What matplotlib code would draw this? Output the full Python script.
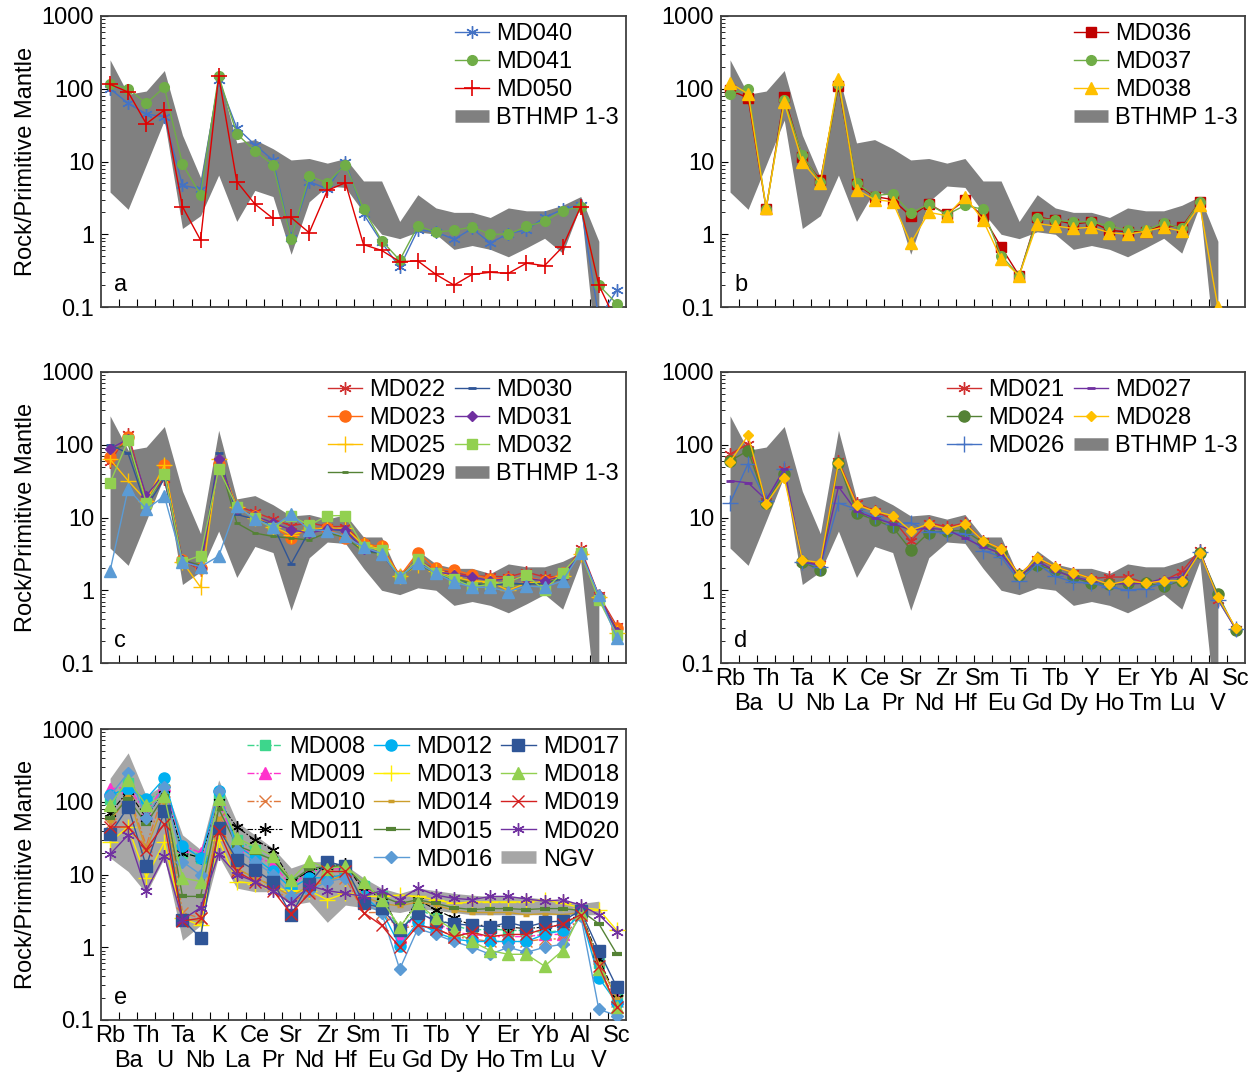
import numpy as np
import matplotlib
matplotlib.use('Agg')
import matplotlib.pyplot as plt
from matplotlib.lines import Line2D
from matplotlib.ticker import LogLocator, NullFormatter

plt.rcParams['font.family'] = ['Liberation Sans', 'DejaVu Sans']
plt.rcParams['font.size'] = 17

elements = ['Rb', 'Ba', 'Th', 'U', 'Ta', 'Nb', 'K', 'La', 'Ce', 'Pr', 'Sr', 'Nd', 'Zr', 'Hf',
            'Sm', 'Eu', 'Ti', 'Gd', 'Tb', 'Dy', 'Y', 'Ho', 'Er', 'Tm', 'Yb', 'Lu', 'Al', 'V', 'Sc']
nan = np.nan

# envelopes (Rb .. V)
bthmp_upper = [250, 84, 93, 178, 23, 6.0, 158, 18, 20, 15, 10.5, 11, 9.5, 11, 5.4, 5.4, 1.5, 3.5,
               2.3, 2.0, 2.0, 1.7, 2.3, 2.1, 2.1, 2.5, 3.3, 0.8]
bthmp_lower = [3.8, 2.2, 9, 37, 1.2, 1.8, 6.5, 1.5, 4.0, 3.3, 0.53, 2.8, 4.6, 4.4, 2.0, 1.0, 0.87,
               1.08, 1.0, 0.62, 0.7, 0.62, 0.49, 0.65, 0.88, 0.55, 2.5, 0.01]
ngv_upper = [210, 470, 120, 175, 35, 22, 200, 53, 35, 23, 12.3, 15, 15, 13.5, 9, 6.5, 5.5, 6.5,
             6.0, 5.5, 5.2, 5.0, 5.0, 4.9, 4.6, 4.4, 4.0, 4.3]
ngv_lower = [17, 11, 5.5, 17, 1.25, 2.0, 18, 6.5, 5.8, 5.8, 3.8, 4.2, 2.2, 3.8, 3.5, 3.2, 3.0, 3.4,
             3.2, 3.0, 2.8, 2.8, 2.8, 2.8, 2.8, 2.8, 2.8, 2.8]

# panel a
md040 = [100, 63, 45, 41, 4.7, 4.2, 130, 29, 17, 10.4, 0.9, 5.3, 4.2, 10, 1.9, 0.78, 0.35, 1.15,
         1.08, 0.85, 1.2, 0.76, 1.02, 1.15, 1.7, 2.2, 2.55, 0.07, 0.17]
md041 = [118, 100, 63, 105, 9.2, 3.5, 150, 24, 14, 9, 0.87, 6.3, 5.1, 9, 2.2, 0.82, 0.44, 1.3,
         1.07, 1.13, 1.26, 1.0, 1.0, 1.28, 1.5, 2.1, 2.4, 0.2, 0.11]
md050 = [115, 90, 33, 51, 2.4, 0.83, 150, 5.3, 2.6, 1.65, 1.7, 1.05, 4.0, 5.1, 0.72, 0.6, 0.42, 0.43,
         0.28, 0.2, 0.28, 0.3, 0.29, 0.4, 0.37, 0.67, 2.4, 0.2, 0.06]

# panel b
md036 = [95, 75, 2.25, 78, 11.6, 5.5, 110, 4.9, 3.3, 3.0, 1.77, 2.6, 1.9, 2.95, 1.77, 0.67, 0.27,
         1.73, 1.56, 1.38, 1.48, 1.13, 1.08, 1.08, 1.34, 1.25, 2.8, nan, nan]
md037 = [85, 100, 2.25, 70, 12.2, 5.2, 115, 5.0, 3.4, 3.6, 1.95, 2.6, 1.85, 2.5, 2.2, 0.51, 0.27,
         1.65, 1.56, 1.48, 1.48, 1.3, 1.13, 1.13, 1.44, 1.2, 2.8, nan, nan]
md038 = [120, 85, 2.3, 65, 9.9, 5.0, 135, 4.1, 3.0, 2.8, 0.75, 2.0, 1.8, 3.3, 1.56, 0.46, 0.27,
         1.4, 1.3, 1.2, 1.25, 1.05, 1.0, 1.1, 1.25, 1.1, 2.5, 0.1, nan]

# panel c
md022 = [58, 142, 18, 34, 2.6, 1.9, 60, 14.5, 11.8, 9.5, 7.7, 8.5, 7.5, 7.5, 4.4, 3.9, 1.62, 2.6,
         1.9, 1.75, 1.56, 1.56, 1.52, 1.78, 1.52, 1.56, 3.75, 0.85, 0.32]
md023 = [67, 126, 17, 52, 2.6, 2.0, 55, 14, 10.4, 7.5, 5.2, 7.1, 7.1, 5.2, 4.3, 4.0, 1.55, 3.3,
         2.0, 1.9, 1.63, 1.45, 1.45, 1.52, 1.35, 1.7, 3.3, 0.8, 0.3]
md025 = [63, 32, 17, 52, 2.45, 1.1, 63, 14, 9.8, 7.5, 5.8, 6.8, 7.1, 7.1, 4.2, 3.7, 1.55, 2.2,
         1.85, 1.5, 1.35, 1.3, 1.0, 1.25, 1.3, 1.56, 3.2, 0.8, 0.26]
md029 = [83, 103, 15.8, 40, 2.6, 2.2, 63, 8.4, 6.1, 5.5, 5.2, 4.9, 6.2, 5.3, 3.4, 3.2, 1.52, 2.3,
         1.7, 1.45, 1.25, 1.2, 1.2, 1.22, 1.25, 1.52, 3.3, 0.82, 0.28]
md030 = [100, 76, 14, 34, 2.6, 2.05, 76, 11, 9.5, 7.9, 2.3, 6.5, 6.9, 6.6, 3.6, 3.2, 1.52, 2.6,
         1.7, 1.35, 1.22, 1.15, 1.25, 1.22, 1.22, 1.45, 3.4, 0.82, 0.27]
md031 = [88, 120, 20, 40, 2.6, 2.05, 63, 13, 10.6, 8.4, 6.8, 6.1, 6.9, 6.8, 3.7, 3.3, 1.52, 2.5,
         1.8, 1.63, 1.52, 1.35, 1.45, 1.45, 1.35, 1.56, 3.4, 0.85, 0.27]
md032 = [30, 115, 16, 40, 2.45, 3.0, 47, 14, 9.8, 7.1, 10.6, 7.8, 10.6, 10.6, 3.95, 3.6, 1.5, 2.65,
         1.75, 1.42, 1.12, 1.2, 1.32, 1.6, 1.0, 1.75, 3.3, 0.74, 0.24]
c_unlabeled = [1.84, 25, 13, 19.7, 2.45, 2.1, 2.95, 14.3, 9.5, 7.5, 11, 6.8, 6.6, 5.5, 3.9, 3.2,
               1.52, 2.4, 1.7, 1.3, 1.1, 1.1, 0.95, 1.15, 1.1, 1.35, 3.3, 0.85, 0.22]

# panel d
md021 = [74, 103, 16.7, 46, 2.45, 2.3, 60, 16, 12.2, 9.5, 4.7, 8.5, 7.4, 8.4, 4.8, 3.7, 1.65, 2.7,
         2.1, 1.75, 1.45, 1.52, 1.52, 1.25, 1.35, 1.8, 3.6, 0.74, 0.29]
md024 = [60, 83, 16, 40, 2.45, 1.9, 57, 11.5, 9.3, 7.4, 3.6, 6.2, 6.6, 6.6, 4.5, 3.4, 1.6, 2.2,
         1.9, 1.5, 1.25, 1.2, 1.25, 1.25, 1.13, 1.35, 3.3, 0.88, 0.28]
md026 = [15.8, 55, 16.7, 46, 2.45, 2.1, 15.8, 13, 10.4, 8.2, 8.5, 6.4, 6.2, 6.0, 3.5, 2.9, 1.35, 2.3,
         1.55, 1.3, 1.25, 1.1, 1.0, 1.05, 1.25, 1.38, 3.4, 0.74, 0.29]
md027 = [32, 30, 17.5, 46, 2.45, 2.2, 26.5, 12.2, 9.8, 8.2, 6.8, 7.1, 6.8, 5.2, 3.95, 3.2, 1.52, 2.5,
         1.85, 1.52, 1.35, 1.25, 1.22, 1.25, 1.45, 1.52, 3.4, 0.8, 0.29]
md028 = [58, 135, 15.5, 35, 2.6, 2.4, 57, 15, 12.2, 10.6, 6.6, 8.2, 6.9, 8.2, 4.8, 3.7, 1.6, 2.8,
         2.1, 1.75, 1.45, 1.2, 1.35, 1.25, 1.35, 1.35, 3.3, 0.8, 0.3]

# panel e
md008 = [110, 180, 100, 150, 20, 17, 110, 30, 22, 15, 8, 10, 14, 13, 7, 5, 1.6, 3.5, 2.5, 2.0, 1.7,
         1.8, 1.7, 1.7, 1.6, 1.7, 3.0, 0.6, 0.2]
md009 = [150, 160, 70, 170, 25, 20, 100, 25, 18, 14, 7, 11, 12, 12, 7, 4.5, 1.4, 3.2, 2.2, 1.6, 1.5,
         1.4, 1.4, 1.4, 1.5, 1.5, 3.0, 0.45, 0.2]
md010 = [50, 130, 25, 140, 3, 2.5, 60, 12, 9, 7, 4, 6, 10, 9, 3, 3, 1.8, 2.0, 1.8, 1.4, 1.3, 1.2,
         1.2, 1.2, 1.3, 1.3, 2.8, 0.5, 0.18]
md011 = [70, 140, 60, 150, 20, 17, 100, 45, 30, 22, 8, 11, 13, 14, 6, 5, 1.8, 4.5, 3.3, 2.5, 2.0,
         2.0, 1.9, 1.8, 1.9, 2.0, 3.0, 0.7, 0.2]
md012 = [125, 150, 110, 210, 25, 17, 140, 25, 17, 11, 6.5, 9, 9, 10, 5, 3.2, 1.05, 2.2, 1.6, 1.3,
         1.2, 1.2, 1.2, 1.2, 1.5, 1.7, 2.8, 0.38, 0.17]
md013 = [28, 45, 9, 28, 2.5, 2.0, 30, 8, 7.5, 6.5, 6, 6, 4.5, 5.5, 5, 5, 5.2, 5, 4.5, 4, 4.2, 4.2,
         4.2, 4.2, 4.5, 4.0, 3.5, 3.3, 1.7]
md014 = [55, 120, 22, 100, 2.5, 2.3, 60, 12, 9, 7, 5, 7, 8, 10, 5, 4, 3.7, 4.2, 3.8, 3.2, 3.0, 3.0,
         3.0, 2.8, 2.9, 2.8, 3.0, 0.6, 0.2]
md015 = [60, 110, 50, 120, 5, 5, 80, 25, 20, 16, 8, 12, 13, 13, 7, 5, 4.0, 4.5, 4.0, 3.5, 3.3, 3.4,
         3.4, 3.3, 3.4, 3.4, 3.2, 2.1, 0.8]
md016 = [120, 250, 60, 160, 15, 10, 140, 22, 15, 10, 5, 6, 8, 9, 4, 3, 0.5, 1.8, 1.5, 1.2, 1.0, 0.8,
         1.0, 0.85, 1.0, 1.1, 2.7, 0.14, 0.115]
md017 = [36, 85, 13, 75, 2.4, 1.35, 43, 16, 11.5, 8, 2.8, 7.5, 15, 13, 4, 3.5, 1.7, 3.0, 2.3, 2.1,
         2.0, 1.9, 2.2, 1.9, 2.2, 2.3, 3.2, 0.9, 0.28]
md018 = [90, 200, 90, 120, 9, 8, 110, 32, 24, 18, 8.5, 15.5, 12, 13, 8, 4.5, 1.9, 4.0, 2.5, 1.7,
         1.2, 0.9, 0.8, 0.8, 0.55, 0.9, 3.0, 0.5, 0.15]
md019 = [45, 45, 22, 50, 2.3, 2.5, 40, 11, 8, 6, 2.9, 5.5, 11, 11, 3, 2.0, 1.0, 2.0, 1.8, 1.4, 1.6,
         1.4, 1.5, 1.5, 1.8, 2.1, 2.8, 0.55, 0.15]
md020 = [19, 35, 6, 18, 2.4, 3.5, 19, 10, 8, 6, 4, 7, 6, 5.5, 5, 6, 4.5, 6.5, 5.2, 4.7, 4.5, 5.0,
         5.0, 4.6, 4.3, 4.5, 3.8, 2.8, 1.6]

x = np.arange(len(elements))
xb = x[:len(bthmp_upper)]

asterisk = (6, 2, 0)
fig = plt.figure(figsize=(12.55, 10.74), dpi=100)
W, H = 1255.0, 1074.0


def make_ax(left, right, top, bottom):
    return fig.add_axes([left / W, 1 - bottom / H, (right - left) / W, (bottom - top) / H])


def style(ax, letter, xlabels=False, ylabel=False):
    ax.set_yscale('log')
    ax.set_ylim(0.1, 1000)
    ax.set_xlim(-0.5, len(elements) - 0.5)
    ax.set_yticks([0.1, 1, 10, 100, 1000])
    ax.set_yticklabels(['0.1', '1', '10', '100', '1000'])
    ax.yaxis.set_minor_locator(LogLocator(base=10, subs=np.arange(2, 10), numticks=20))
    ax.yaxis.set_minor_formatter(NullFormatter())
    ax.tick_params(axis='y', which='major', direction='in', length=5, labelsize=17, pad=5)
    ax.tick_params(axis='y', which='minor', direction='in', length=3)
    ax.set_xticks(np.arange(0.5, len(elements) - 1, 1))
    ax.tick_params(axis='x', which='major', direction='in', length=6, labelbottom=False)
    if xlabels:
        # element names in two staggered rows below the axis
        tr = ax.get_xaxis_transform()
        for i, e in enumerate(elements):
            yy = -0.018 if i % 2 == 0 else -0.104
            ax.text(x[i], yy, e, transform=tr, ha='center', va='top', fontsize=17)
    for s in ax.spines.values():
        s.set_color('#404040')
        s.set_linewidth(1.3)
    ax.text(0.025, 0.075, letter, transform=ax.transAxes, ha='left', va='center', fontsize=17)
    if ylabel:
        ax.set_ylabel('Rock/Primitive Mantle', fontsize=17, labelpad=3)


def band(ax, lo, hi, color):
    ax.fill_between(xb, lo, hi, color=color, lw=0, zorder=1)


def series(ax, vals, color, marker, ms, label, mew=1.0, ls='-', lw=1.0):
    ax.plot(x, np.array(vals, dtype=float), color=color, marker=marker, ms=ms, mew=mew,
            ls=ls, lw=lw, label=label, zorder=3)


def legend(ax, ncol, extra, **kw):
    h, l = ax.get_legend_handles_labels()
    h = h + [extra[0]]
    l = l + [extra[1]]
    ax.legend(h, l, ncol=ncol, loc='upper right', frameon=False, fontsize=17,
              handlelength=1.45, handletextpad=0.3, labelspacing=0.26, columnspacing=0.4,
              borderaxespad=0.1, borderpad=0.2, **kw)


bth_proxy = (Line2D([], [], color='#808080', lw=9, solid_capstyle='butt'), 'BTHMP 1-3')
ngv_proxy = (Line2D([], [], color='#A6A6A6', lw=9, solid_capstyle='butt'), 'NGV')

# ---- a
ax = make_ax(101, 626, 16, 307)
band(ax, bthmp_lower, bthmp_upper, '#808080')
series(ax, md040, '#4472C4', asterisk, 9, 'MD040')
series(ax, md041, '#70AD47', 'o', 7, 'MD041')
series(ax, md050, '#E00000', '+', 11, 'MD050', mew=1.2)
style(ax, 'a', ylabel=True)
legend(ax, 1, bth_proxy)

# ---- b
ax = make_ax(721, 1245, 16, 307)
band(ax, bthmp_lower, bthmp_upper, '#808080')
series(ax, md036, '#C00000', 's', 7, 'MD036')
series(ax, md037, '#70AD47', 'o', 7, 'MD037')
series(ax, md038, '#FFC000', '^', 8, 'MD038')
style(ax, 'b')
legend(ax, 1, bth_proxy)

# ---- c
ax = make_ax(101, 626, 372, 663)
band(ax, bthmp_lower, bthmp_upper, '#808080')
series(ax, md022, '#D03030', asterisk, 9, 'MD022')
series(ax, md023, '#FF6A13', 'o', 8, 'MD023')
series(ax, md025, '#FFC000', '+', 11, 'MD025')
series(ax, md029, '#548235', '_', 5, 'MD029', mew=2)
series(ax, md030, '#2F5597', '_', 6, 'MD030', mew=2)
series(ax, md031, '#7030A0', 'D', 5, 'MD031')
series(ax, md032, '#92D050', 's', 7, 'MD032')
series(ax, c_unlabeled, '#5B9BD5', '^', 8, '_nolegend_')
style(ax, 'c', ylabel=True)
legend(ax, 2, bth_proxy)

# ---- d
ax = make_ax(721, 1245, 372, 663)
band(ax, bthmp_lower, bthmp_upper, '#808080')
series(ax, md021, '#D03030', asterisk, 9, 'MD021')
series(ax, md024, '#548235', 'o', 8, 'MD024')
series(ax, md026, '#4472C4', '+', 11, 'MD026')
series(ax, md027, '#7030A0', '_', 6, 'MD027', mew=2)
series(ax, md028, '#FFC000', 'D', 5.5, 'MD028')
style(ax, 'd', xlabels=True)
legend(ax, 2, bth_proxy)

# ---- e
ax = make_ax(101, 626, 729, 1020)
band(ax, ngv_lower, ngv_upper, '#A6A6A6')
dd = (0, (5, 1.5, 1.5, 1.5))
series(ax, md008, '#3DD68C', 's', 7, 'MD008', ls=dd)
series(ax, md009, '#FF33CC', '^', 8, 'MD009', ls=dd)
series(ax, md010, '#E0783C', 'x', 8, 'MD010', ls=dd)
series(ax, md011, '#000000', asterisk, 9, 'MD011', ls=dd, lw=0.8)
ax.plot([], [], ls='none', label=' ')
series(ax, md012, '#00B0F0', 'o', 8, 'MD012')
series(ax, md013, '#FFEE00', '+', 11, 'MD013')
series(ax, md014, '#CC9E2B', '_', 5, 'MD014', mew=2.5)
series(ax, md015, '#548235', '_', 7, 'MD015', mew=3)
series(ax, md016, '#5B9BD5', 'D', 6, 'MD016')
series(ax, md017, '#2F5597', 's', 8, 'MD017')
series(ax, md018, '#92D050', '^', 8, 'MD018')
series(ax, md019, '#D42020', 'x', 8, 'MD019')
series(ax, md020, '#7030A0', asterisk, 9, 'MD020')
style(ax, 'e', xlabels=True, ylabel=True)
legend(ax, 3, ngv_proxy)

fig.savefig('out.png', dpi=100)
plt.close(fig)
